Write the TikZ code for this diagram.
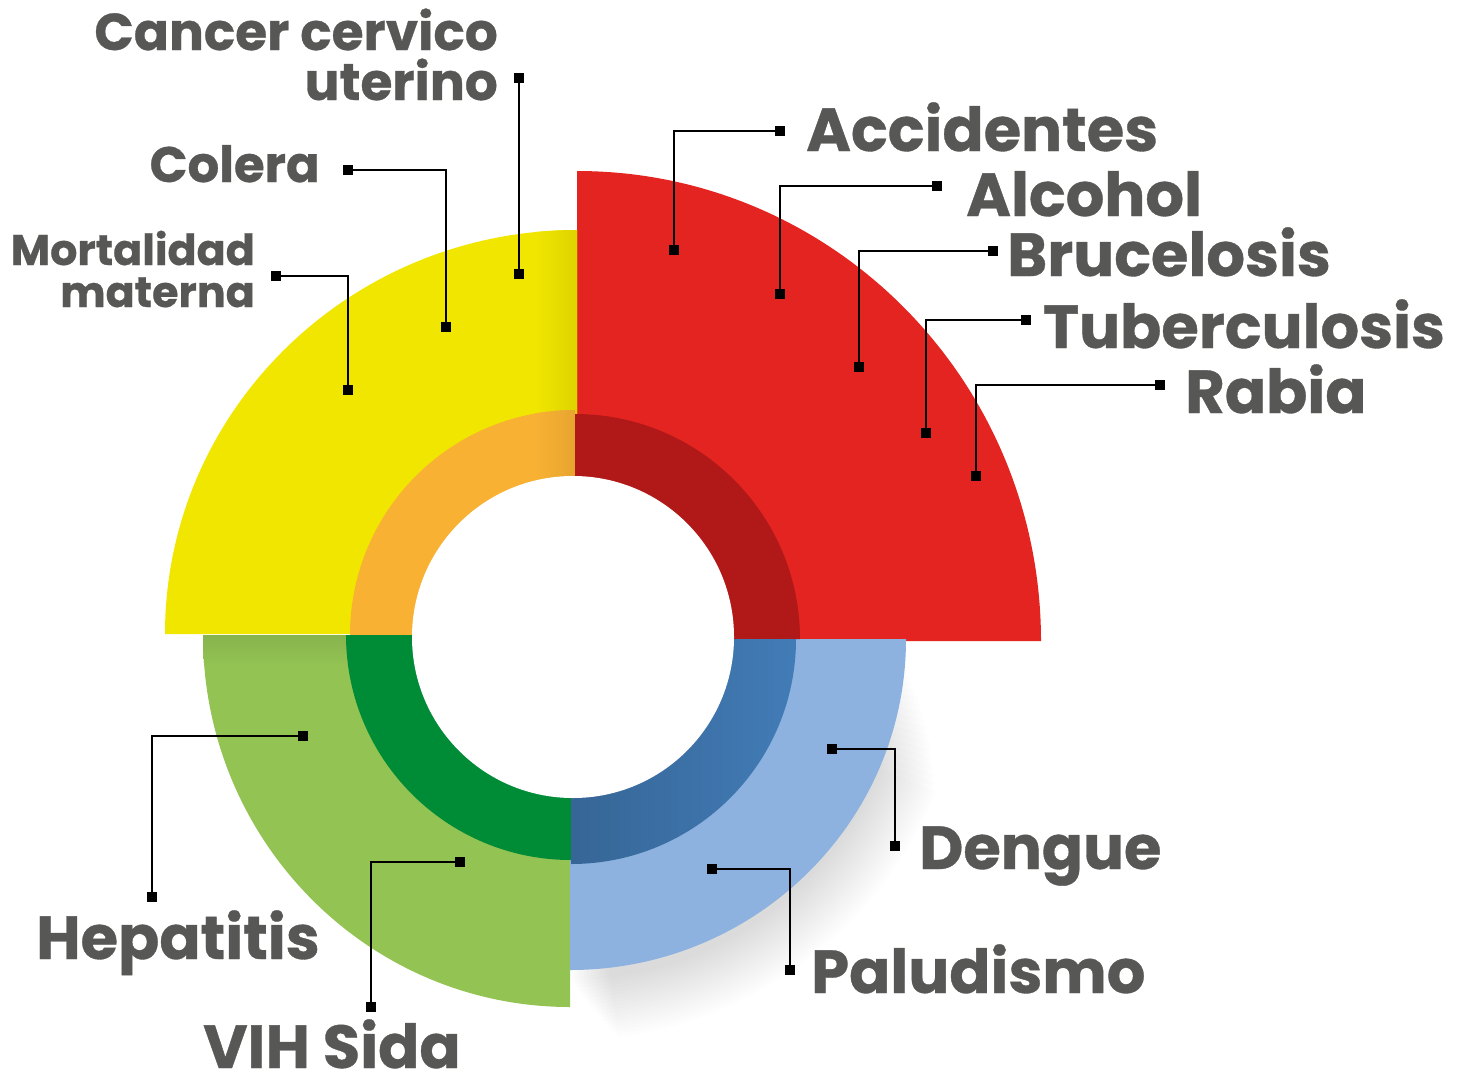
\documentclass[tikz,border=0pt]{standalone}
\usepackage{fontspec}
\setmainfont{Poppins}[BoldFeatures={FakeBold=0.6}]
\definecolor{cred}{HTML}{E42421}
\definecolor{cdred}{HTML}{B01917}
\definecolor{cyel}{HTML}{F1E600}
\definecolor{cora}{HTML}{F8B133}
\definecolor{cgrn}{HTML}{93C353}
\definecolor{cdgrn}{HTML}{008C37}
\definecolor{cblu}{HTML}{8DB2DF}
\definecolor{cdblu}{HTML}{427CB7}
\definecolor{ctxt}{HTML}{575756}
\tikzset{
  lbl/.style={text=ctxt, inner sep=0pt, font=\bfseries\fontsize{61}{61}\selectfont},
  lblm/.style={text=ctxt, inner sep=0pt, font=\bfseries\fontsize{52}{52}\selectfont},
  lbls/.style={text=ctxt, inner sep=0pt, font=\bfseries\fontsize{50}{50}\selectfont},
  lblx/.style={text=ctxt, inner sep=0pt, font=\bfseries\fontsize{43}{43}\selectfont},
  mk/.style={rectangle, fill=black, inner sep=0pt, minimum size=10bp},
  conn/.style={draw=black, line width=2.2bp}
}
\begin{document}
\begin{tikzpicture}[x=1bp, y=-1bp]
\useasboundingbox (0,0) rectangle (1465,1076);
\clip (0,0) rectangle (1465,1076);
% soft shadow under blue quadrant
\foreach \i in {1,...,18}{
  \fill[black, opacity=0.009] (568,644) -- ++(2+\i*1.1:333+3.5*\i) arc[start angle=2+\i*1.1, end angle=90-\i*0.4, radius=333+3.5*\i] -- cycle;
}
% outer quadrants
\fill[cred] (577,641) -- ++(-90:470) arc[start angle=-90, end angle=0, x radius=464, y radius=470] -- cycle;
\fill[cyel] (577,634) -- ++(180:412) arc[start angle=180, end angle=270, x radius=412, y radius=404] -- cycle;
\begin{scope}
  \clip (577,634) -- ++(180:412) arc[start angle=180, end angle=270, x radius=412, y radius=404] -- cycle;
  \shade[left color=cyel, right color=cyel!92!black] (535,220) rectangle (577,640);
\end{scope}
\fill[cgrn] (570,635) -- ++(90:372) arc[start angle=90, end angle=180, x radius=367, y radius=372] -- cycle;
\begin{scope}
  \clip (570,635) -- ++(90:372) arc[start angle=90, end angle=180, x radius=367, y radius=372] -- cycle;
  \shade[top color=cgrn!92!black, bottom color=cgrn] (203,635) rectangle (570,665);
\end{scope}
\fill[cblu] (570,639) -- ++(0:336) arc[start angle=0, end angle=90, x radius=336, y radius=331] -- cycle;
% middle ring
\fill[cora] (575,635) -- ++(180:225) arc[start angle=180, end angle=270, radius=225] -- cycle;
\begin{scope}
  \clip (575,635) -- ++(180:225) arc[start angle=180, end angle=270, radius=225] -- cycle;
  \shade[left color=cora, right color=cora!93!black] (535,400) rectangle (576,640);
\end{scope}
\fill[cdred] (575,639) -- ++(-90:225) arc[start angle=-90, end angle=0, radius=225] -- cycle;
\fill[cdgrn] (571,635) -- ++(90:225) arc[start angle=90, end angle=180, radius=225] -- cycle;
\begin{scope}
  \clip (571,639) -- ++(0:225) arc[start angle=0, end angle=90, radius=225] -- cycle;
  \shade[left color=cdblu!82!black, right color=cdblu] (571,639) rectangle (798,865);
\end{scope}
% inner white circle
\fill[white] (573,637) circle[radius=161];

% connectors
\node[mk] (cc1) at (519,78) {};
\node[mk] (cc2) at (519,274) {};
\node[mk] (co1) at (348,170) {};
\node[mk] (co2) at (446,327) {};
\node[mk] (mo1) at (276,276) {};
\node[mk] (mo2) at (348,390) {};
\node[mk] (ac1) at (780,131) {};
\node[mk] (ac2) at (674,250) {};
\node[mk] (al1) at (937,186) {};
\node[mk] (al2) at (780,294) {};
\node[mk] (br1) at (993,251) {};
\node[mk] (br2) at (859,367) {};
\node[mk] (tu1) at (1026,320) {};
\node[mk] (tu2) at (926,433) {};
\node[mk] (ra1) at (1160,385) {};
\node[mk] (ra2) at (976,476) {};
\node[mk] (de1) at (832,749) {};
\node[mk] (de2) at (895,846) {};
\node[mk] (pa1) at (712,869) {};
\node[mk] (pa2) at (790,970) {};
\node[mk] (he1) at (303,736) {};
\node[mk] (he2) at (152,897) {};
\node[mk] (vi1) at (460,862) {};
\node[mk] (vi2) at (371,1007) {};
\draw[conn] (cc1.center) -- (cc2.center);
\draw[conn] (co1.center) -| (co2.center);
\draw[conn] (mo1.center) -| (mo2.center);
\draw[conn] (ac1.center) -| (ac2.center);
\draw[conn] (al1.center) -| (al2.center);
\draw[conn] (br1.center) -| (br2.center);
\draw[conn] (tu1.center) -| (tu2.center);
\draw[conn] (ra1.center) -| (ra2.center);
\draw[conn] (de1.center) -| (de2.center);
\draw[conn] (pa1.center) -| (pa2.center);
\draw[conn] (he1.center) -| (he2.center);
\draw[conn] (vi1.center) -| (vi2.center);

% labels
\node[lblm, anchor=base east] (cancerA) at (498,50) {Cancer cervico};
\node[lblm, anchor=base east] (cancerB) at (498,100) {uterino};
\node[lbls, anchor=base east] (colera) at (320,182) {Colera};
\node[lblx, anchor=base east] (mortA) at (255,265) {Mortalidad};
\node[lblx, anchor=base east] (mortB) at (255,307) {materna};
\node[lbl, anchor=base west] (accidentes) at (806,151) {Accidentes};
\node[lbl, anchor=base west] (alcohol) at (966,216) {Alcohol};
\node[lbl, anchor=base west] (brucelosis) at (1007,276) {Brucelosis};
\node[lbl, anchor=base west] (tuberculosis) at (1043,348) {Tuberculosis};
\node[lbl, anchor=base west] (rabia) at (1185,413) {Rabia};
\node[lbl, anchor=base west] (dengue) at (919,869) {Dengue};
\node[lbl, anchor=base west] (paludismo) at (811,993) {Paludismo};
\node[lbl, anchor=base west] (hepatitis) at (36,959) {Hepatitis};
\node[lbl, anchor=base west] (vih) at (203,1068) {VIH Sida};
\end{tikzpicture}
\end{document}
